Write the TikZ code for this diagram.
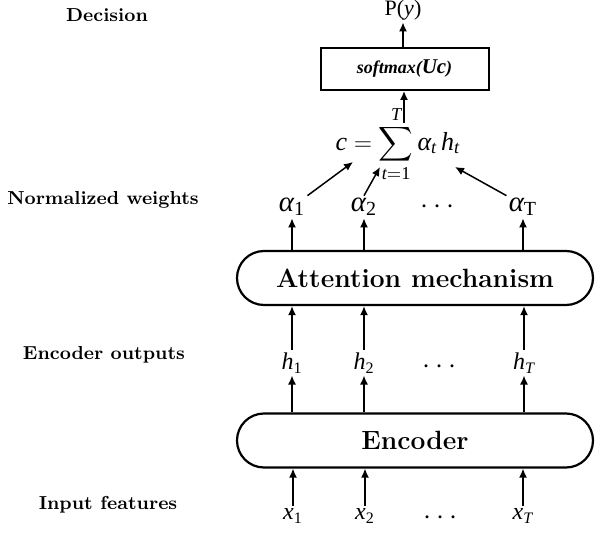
\documentclass[tikz,border=0pt]{standalone}
\usepackage{amsmath}
\usepackage{fontspec}
\newfontfamily\tms{Liberation Serif}
\newcommand{\tv}[1]{\text{\tms\itshape #1}}
\newcommand{\tu}[1]{\text{\tms #1}}
\usetikzlibrary{arrows.meta}
\begin{document}
\begin{tikzpicture}[x=0.5pt,y=-0.5pt,
  arr/.style={-{Latex[length=4.5pt,width=4pt]}, line width=0.75pt},
  lbl/.style={font=\bfseries\fontsize{9.4}{11}\selectfont},
  pill/.style={draw, line width=1.1pt, rounded corners=13.5pt, minimum width=178pt, minimum height=27pt, inner sep=0pt, font=\bfseries\fontsize{13.2}{16}\selectfont},
  var/.style={inner sep=1pt}
]
\useasboundingbox (0,0) rectangle (595,533);

% left labels
\node[lbl] (ldec) at (107,15) {Decision};
\node[lbl] (lnw) at (103,200) {Normalized weights};
\node[lbl] (leo) at (104,355) {Encoder outputs};
\node[lbl] (lif) at (108,505) {Input features};

% top
\node[var] (py) at (403,10) {\tms\fontsize{11}{13}\selectfont P({\itshape y})};
\node[draw, line width=1pt, minimum width=84pt, minimum height=21pt, inner sep=0pt] (sm) at (404.5,69) {\tms\bfseries\itshape\fontsize{9}{11}\selectfont softmax({\fontsize{10.5}{12}\selectfont Uc})};
\node[var] (sum) at (398,144) {\fontsize{13}{15}\selectfont$\tv{c}=\displaystyle\sum_{\tv{t}=\tu{1}}^{\tv{T}}\tv{α}_{\tv{t}}\,\tv{h}_{\tv{t}}$};
\coordinate (s1) at (353,162);
\coordinate (s2) at (380,167);
\coordinate (sT) at (455,167);
\coordinate (sumtop) at (404,123);

% alphas
\node[var] (a1) at (292,207) {\Large$\tv{α}_{\tu{1}}$};
\node[var] (a2) at (364,207) {\Large$\tv{α}_{\tu{2}}$};
\node[var] (ad) at (440,207) {\Large$\cdots$};
\node[var] (aT) at (523,207) {\Large$\tv{α}_{\tu{T}}$};

% boxes
\node[pill] (att) at (415,278) {Attention mechanism};
\node[pill] (enc) at (415,440.5) {Encoder};

% h
\node[var] (h1) at (292,363) {\large$\tv{h}_{\tu{1}}$};
\node[var] (h2) at (364,363) {\large$\tv{h}_{\tu{2}}$};
\node[var] (hd) at (442,367) {\Large$\cdots$};
\node[var] (hT) at (524,363) {\large$\tv{h}_{\tv{T}}$};

% x
\node[var] (x1) at (293,516) {\large$\tv{x}_{\tu{1}}$};
\node[var] (x2) at (365,516) {\large$\tv{x}_{\tu{2}}$};
\node[var] (xd) at (443,518) {\Large$\cdots$};
\node[var] (xT) at (523,516) {\large$\tv{x}_{\tv{T}}$};

% connectors
\draw[arr] (sm.north -| py) -- (py.south);
\draw[arr] (sumtop) -- (sm.south -| sumtop);
\draw[arr] (a1.north east) -- (s1);
\draw[arr] (a2.north) -- (s2);
\draw[arr] (aT.north west) -- (sT);
\foreach \n in {1,2,T}{
  \draw[arr] (att.north -| a\n) -- (a\n.south);
  \draw[arr] (h\n.north) -- (att.south -| h\n);
  \draw[arr] (enc.north -| h\n) -- (h\n.south);
  \draw[arr] (x\n.north) -- (enc.south -| x\n);
}
\end{tikzpicture}
\end{document}
